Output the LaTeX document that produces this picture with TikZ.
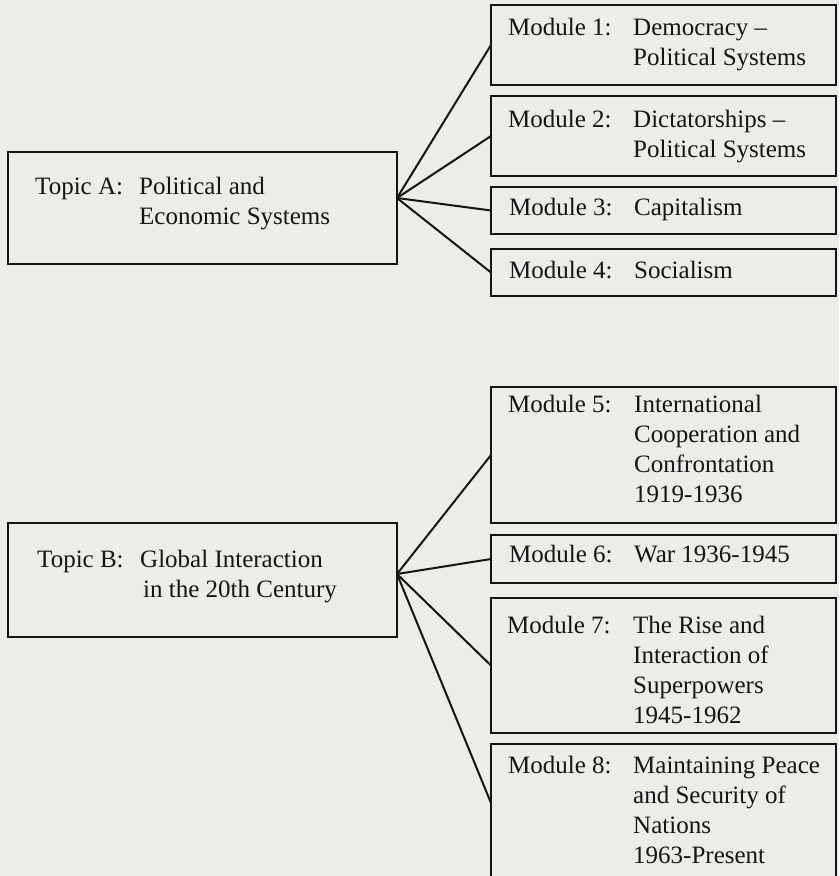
\documentclass[tikz,border=0pt]{standalone}
\usepackage{fontspec}
\setmainfont{Liberation Serif}
\definecolor{paper}{RGB}{236,236,232}
\definecolor{ink}{RGB}{20,20,20}
% label in a fixed-width column, then a left-aligned block of lines
\newcommand\labelledtext[3]{\makebox[#1][l]{#2}\begin{tabular}[t]{@{}l@{}}#3\end{tabular}}
\begin{document}
\begin{tikzpicture}[x=1pt,y=-1pt,
  box/.style={draw=ink, line width=1.8pt, rectangle, anchor=north west,
              inner sep=0pt, outer sep=0pt},
  txt/.style={anchor=base west, inner sep=0pt, text=ink,
              font=\fontsize{25}{30}\selectfont},
  link/.style={draw=ink, line width=2pt}]
\useasboundingbox (0,0) rectangle (839,876);
\fill[paper] (0,0) rectangle (839,876);
\clip (0,0) rectangle (839,876);

% topic boxes
\node[box, minimum width=389pt, minimum height=112pt] (TA) at (8,152) {};
\node[box, minimum width=389pt, minimum height=114pt] (TB) at (8,523) {};

% module boxes
\node[box, minimum width=345pt, minimum height=80pt]  (M1) at (491,5)   {};
\node[box, minimum width=345pt, minimum height=80pt]  (M2) at (491,96)  {};
\node[box, minimum width=345pt, minimum height=47pt]  (M3) at (491,187) {};
\node[box, minimum width=345pt, minimum height=47pt]  (M4) at (491,249) {};
\node[box, minimum width=345pt, minimum height=136pt] (M5) at (491,387) {};
\node[box, minimum width=345pt, minimum height=48pt]  (M6) at (491,535) {};
\node[box, minimum width=345pt, minimum height=135pt] (M7) at (491,598) {};
\node[box, minimum width=345pt, minimum height=160pt] (M8) at (491,744) {};

% texts
\node[txt] (tA) at (35,194) {\labelledtext{104pt}{Topic A:}{Political and\\Economic Systems}};
\node[txt] (tB) at (37,567) {\labelledtext{103pt}{Topic B:}{Global Interaction\\\hspace{3pt}in the 20th Century}};
\node[txt] (t1) at (508,35)  {\labelledtext{125pt}{Module 1:}{Democracy –\\Political Systems}};
\node[txt] (t2) at (508,127) {\labelledtext{125pt}{Module 2:}{Dictatorships –\\Political Systems}};
\node[txt] (t3) at (509,215) {\labelledtext{125pt}{Module 3:}{Capitalism}};
\node[txt] (t4) at (509,278) {\labelledtext{125pt}{Module 4:}{Socialism}};
\node[txt] (t5) at (508,412) {\labelledtext{126pt}{Module 5:}{International\\Cooperation and\\Confrontation\\1919-1936}};
\node[txt] (t6) at (509,562) {\labelledtext{125pt}{Module 6:}{War 1936-1945}};
\node[txt] (t7) at (507,633) {\labelledtext{126pt}{Module 7:}{The Rise and\\Interaction of\\Superpowers\\1945-1962}};
\node[txt] (t8) at (508,773) {\labelledtext{125pt}{Module 8:}{Maintaining Peace\\and Security of\\Nations\\1963-Present}};

% connectors fanning out from each topic box
\coordinate (hubA) at ([yshift=10pt]TA.east);
\coordinate (hubB) at ([yshift=6pt]TB.east);
\coordinate (m8in) at ([yshift=-59pt]M8.north west);
\foreach \m in {M1,M2,M3,M4} \draw[link] (hubA) -- (\m.west);
\foreach \m in {M5,M6,M7} \draw[link] (hubB) -- (\m.west);
\draw[link] (hubB) -- (m8in);
\end{tikzpicture}
\end{document}
